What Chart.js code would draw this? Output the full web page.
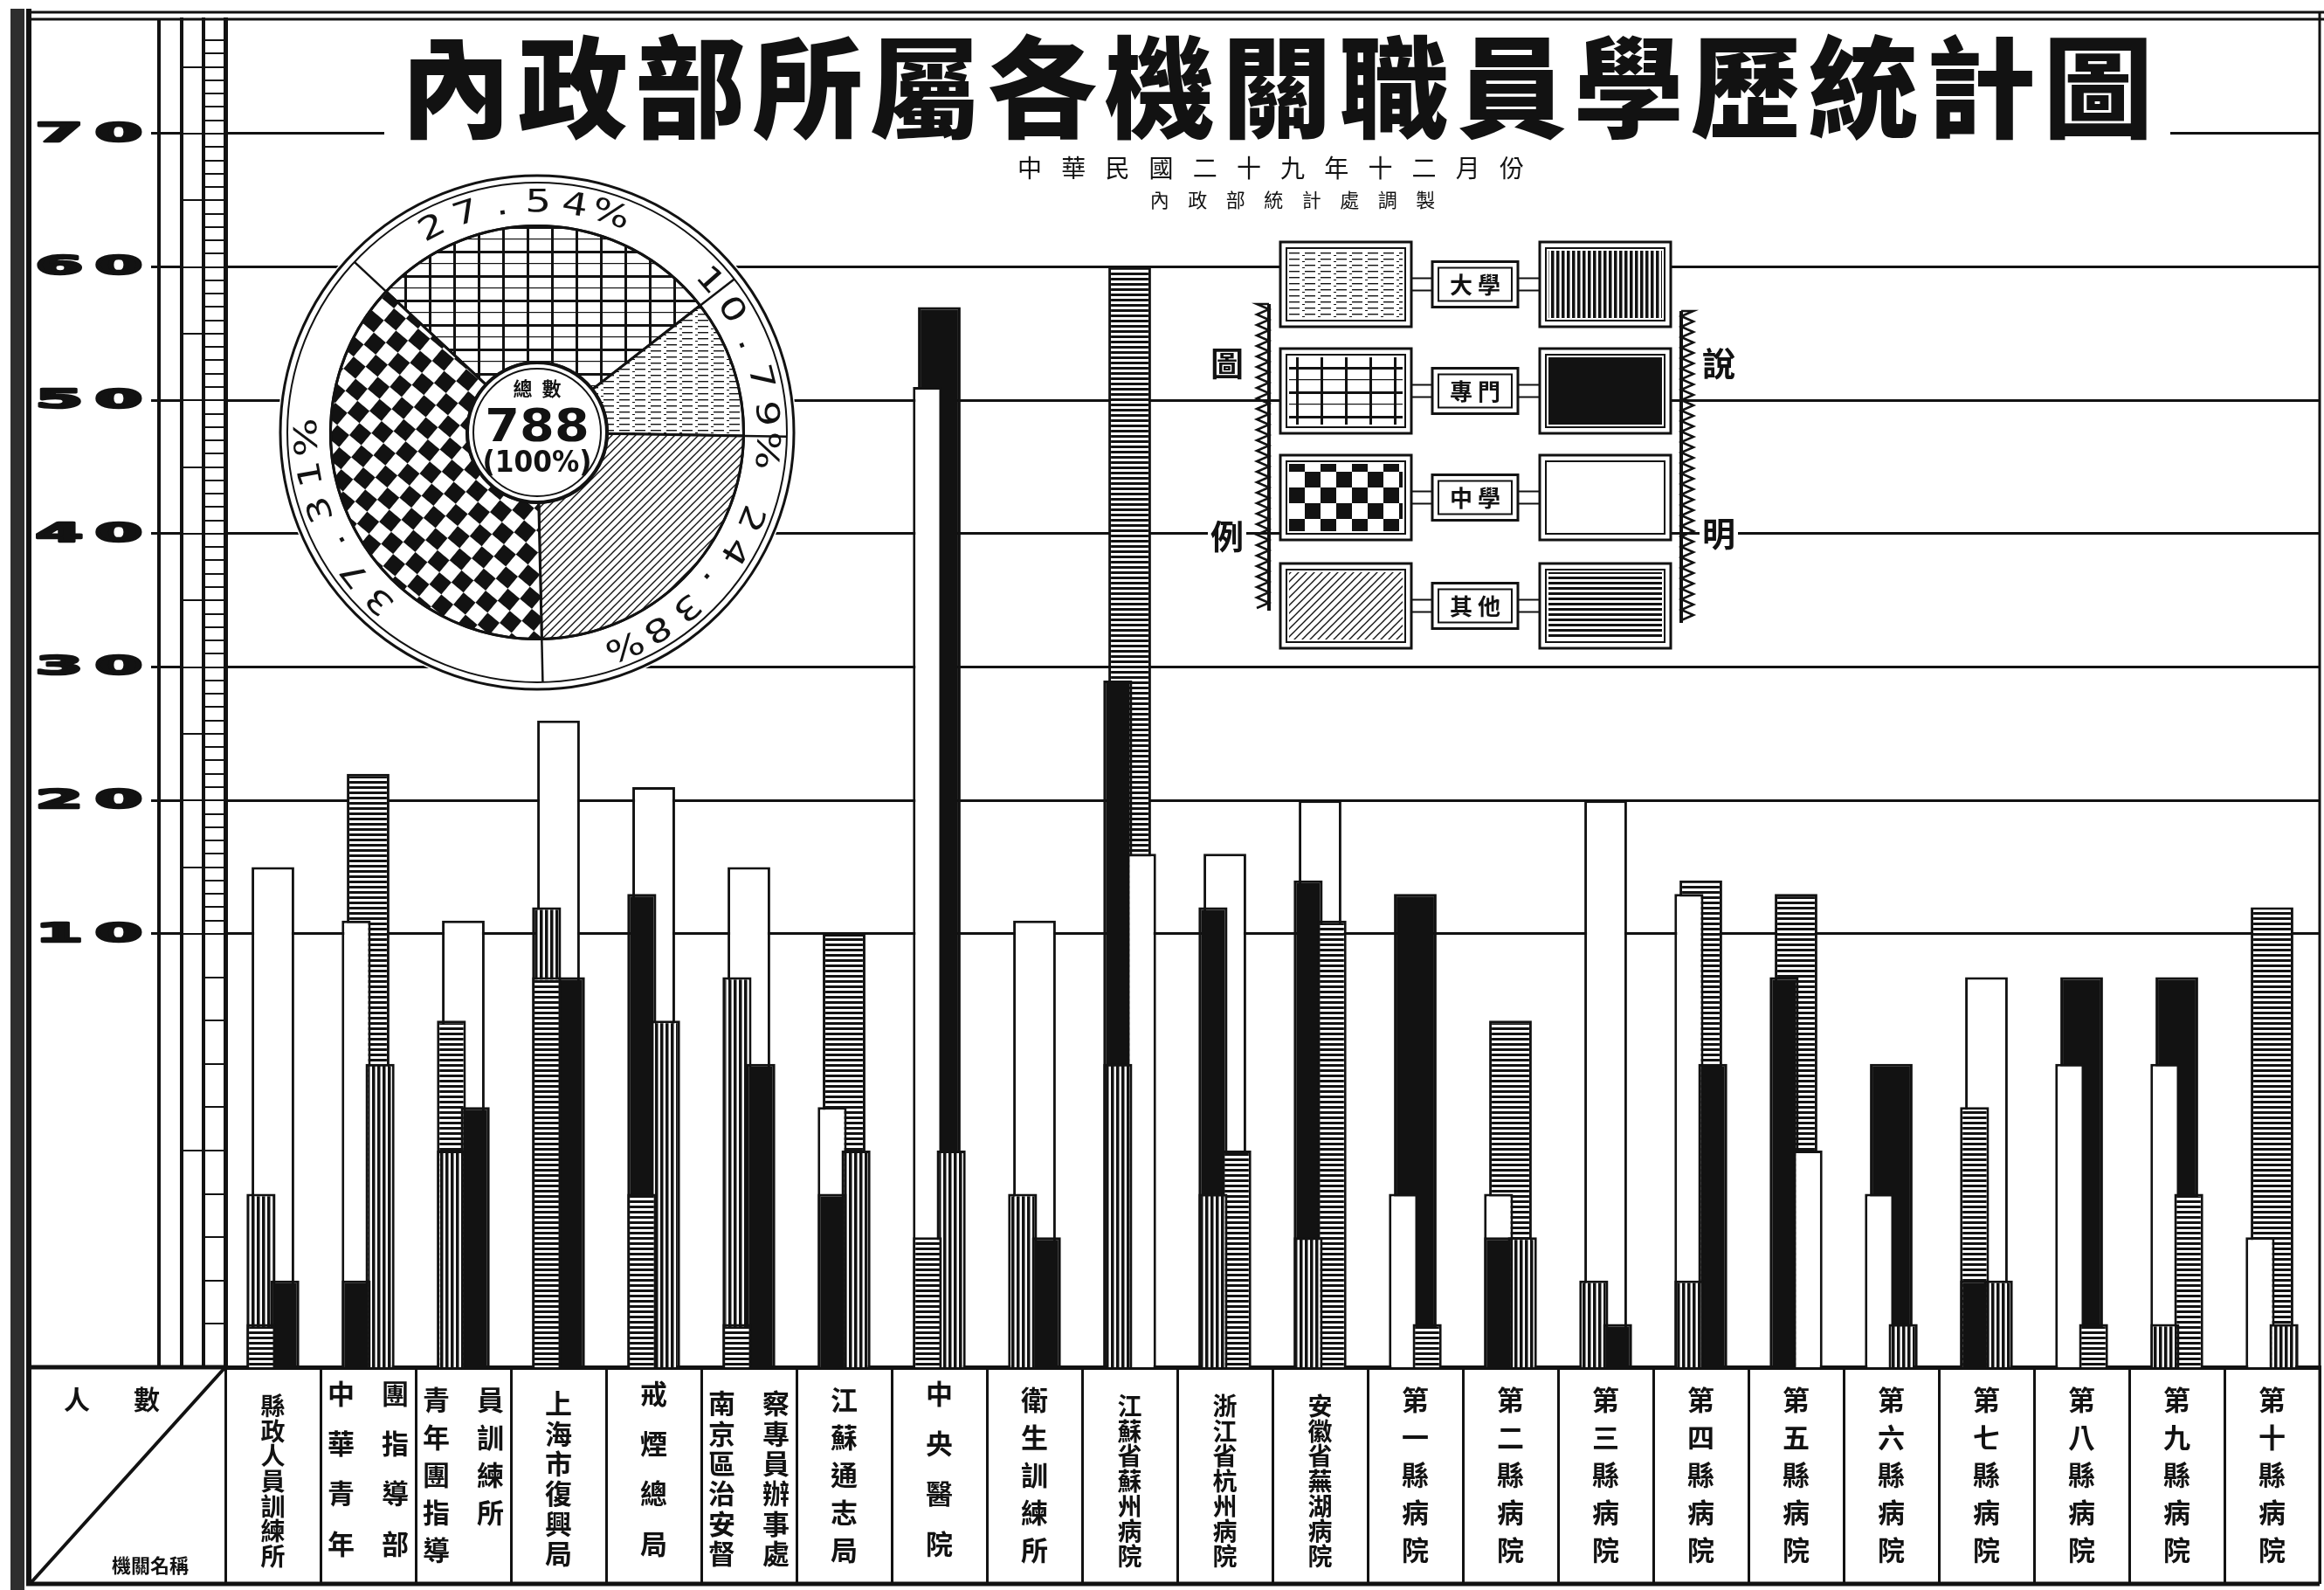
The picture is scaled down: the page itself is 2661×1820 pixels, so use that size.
<!DOCTYPE html>
<html lang="zh-Hant">
<head>
<meta charset="UTF-8">
<title>內政部所屬各機關職員學歷統計圖</title>
<script src="https://cdn.jsdelivr.net/npm/chart.js@4.4.0/dist/chart.umd.min.js"></script>
<style>
  html, body { margin: 0; padding: 0; background: #fff; }
  #wrap { position: relative; width: 2661px; height: 1820px; overflow: hidden; }
  #barChart { position: absolute; left: 0; top: 0; }
  #pieChart { position: absolute; left: 295px; top: 175px; }
</style>
</head>
<body>
<div id="wrap">
  <canvas id="barChart" width="2661" height="1820"></canvas>
  <canvas id="pieChart" width="640" height="640"></canvas>
</div>
<script>
// ---- data ----
// institution names, as written in one or two vertical columns
const institutions = [
  ['縣政人員訓練所'],
  ['中華青年', '團指導部'],
  ['青年團指導', '員訓練所'],
  ['上海市復興局'],
  ['戒煙總局'],
  ['南京區治安督', '察專員辦事處'],
  ['江蘇通志局'],
  ['中央醫院'],
  ['衛生訓練所'],
  ['江蘇省蘇州病院'],
  ['浙江省杭州病院'],
  ['安徽省蕪湖病院'],
  ['第一縣病院'],
  ['第二縣病院'],
  ['第三縣病院'],
  ['第四縣病院'],
  ['第五縣病院'],
  ['第六縣病院'],
  ['第七縣病院'],
  ['第八縣病院'],
  ['第九縣病院'],
  ['第十縣病院']
];
const levels = ['大學', '專門', '中學', '其他'];
const univ    = [4, 7, 5, 12, 8, 9, 5, 5, 4, 7, 4, 3, 0, 3, 2, 2, 0, 1, 2, 0, 1, 1];
const special = [2, 2, 6, 9, 13, 7, 4, 57, 3, 29, 12, 14, 13, 3, 1, 7, 9, 7, 2, 9, 9, 0];
const middle  = [15, 11, 11, 26, 21, 15, 6, 51, 11, 16, 16, 20, 4, 4, 20, 13, 5, 4, 9, 7, 7, 3];
const other   = [1, 22, 8, 9, 4, 1, 10, 3, 0, 60, 5, 11, 1, 8, 0, 14, 13, 0, 6, 1, 4, 12];
const yTicks  = [10, 20, 30, 40, 50, 60, 70];

// ring chart, clockwise from the upper left
const pieLevels = ['專門', '大學', '其他', '中學'];
const pieShares = [27.54, 10.79, 24.38, 37.31];
const totalStaff = 788;

const INK = '#121212';
const CJK = '"Noto Sans CJK TC", "Noto Sans CJK SC", sans-serif';
const DIGITS = '"DejaVu Sans", sans-serif';

Chart.defaults.color = INK;
Chart.defaults.font.family = CJK;

// y axis: 0-10 is drawn stretched, as on the original sheet
class SplitScale extends Chart.LinearScale {
  static id = 'split';
  static defaults = Chart.LinearScale.defaults;
  _frac(v) {
    const b = this.options.breakValue, f = this.options.breakFrac;
    if (v <= b) return (v - this.min) / (b - this.min) * f;
    return f + (v - b) / (this.max - b) * (1 - f);
  }
  getPixelForValue(value) {
    if (value === null || value === undefined || isNaN(value)) return NaN;
    return this.getPixelForDecimal(this._frac(value));
  }
  getValueForPixel(pixel) {
    const t = this.getDecimalForPixel(pixel);
    const b = this.options.breakValue, f = this.options.breakFrac;
    if (t <= f) return this.min + t / f * (b - this.min);
    return b + (t - f) / (1 - f) * (this.max - b);
  }
}
Chart.register(SplitScale);

// ---- fills ----
function pattern(ctx, w, h, draw) {
  const c = document.createElement('canvas');
  c.width = w; c.height = h;
  const g = c.getContext('2d');
  g.fillStyle = '#fff'; g.fillRect(0, 0, w, h);
  g.fillStyle = INK; g.strokeStyle = INK;
  draw(g, w, h);
  return ctx.createPattern(c, 'repeat');
}
function makeFills(ctx) {
  return {
    bar: {
      '大學': pattern(ctx, 6, 6, g => g.fillRect(0, 0, 3.5, 6)),
      '專門': INK,
      '中學': '#fff',
      '其他': pattern(ctx, 6, 6, g => g.fillRect(0, 0, 6, 3))
    },
    pie: {
      '大學': pattern(ctx, 18, 7, g => { g.fillRect(0, 2, 12, 1.4); g.fillRect(15, 5, 3, 1); }),
      '專門': pattern(ctx, 28, 28, g => { g.fillRect(0, 0, 28, 3); g.fillRect(0, 0, 3, 28); g.fillRect(0, 14, 28, 1.2); }),
      '中學': pattern(ctx, 36, 36, g => { g.fillRect(18, 0, 18, 18); g.fillRect(0, 18, 18, 18); }),
      '其他': pattern(ctx, 9, 9, g => {
        g.lineWidth = 1.4; g.beginPath();
        g.moveTo(-1, 10); g.lineTo(10, -1); g.moveTo(-5, 5); g.lineTo(5, -5); g.moveTo(4, 14); g.lineTo(14, 4);
        g.stroke();
      })
    }
  };
}

// ---- helpers ----
function line(ctx, x1, y1, x2, y2, w) {
  ctx.lineWidth = w; ctx.beginPath(); ctx.moveTo(x1, y1); ctx.lineTo(x2, y2); ctx.stroke();
}
function wide(ctx, text, x, y, sx, stroke) {
  ctx.save(); ctx.translate(x, y); ctx.scale(sx, 1);
  ctx.fillText(text, 0, 0);
  if (stroke) { ctx.lineWidth = stroke; ctx.lineJoin = 'round'; ctx.strokeText(text, 0, 0); }
  ctx.restore();
}
function spaced(ctx, text, cx, cy, width) {
  const chars = [...text], step = width / chars.length;
  chars.forEach((ch, i) => ctx.fillText(ch, cx - width / 2 + step * (i + 0.5), cy));
}
function doubleBox(ctx, x, y, w, h, fill) {
  ctx.fillStyle = '#fff'; ctx.fillRect(x, y, w, h);
  ctx.lineWidth = 3; ctx.strokeRect(x, y, w, h);
  ctx.lineWidth = 2; ctx.strokeRect(x + 7, y + 7, w - 14, h - 14);
  if (fill) { ctx.fillStyle = fill; ctx.fillRect(x + 10, y + 10, w - 20, h - 20); }
  ctx.fillStyle = INK;
}
function zigzag(ctx, x, y1, y2, dir) {
  ctx.lineWidth = 2.5; ctx.beginPath(); ctx.moveTo(x, y1);
  let k = 0;
  for (let y = y1; y <= y2; y += 6) { ctx.lineTo(k % 2 ? x : x + dir * 14, y); k++; }
  ctx.stroke();
  line(ctx, x, y1, x, y2, 4);
}

// ---- bar chart ----
const barCtx = document.getElementById('barChart').getContext('2d');
const fills = makeFills(barCtx);
const byLevel = { '大學': univ, '專門': special, '中學': middle, '其他': other };

const labelLines = institutions.map(cols => {
  if (cols.length === 1) return [...cols[0]];
  const n = Math.max(...cols.map(c => c.length));
  return Array.from({ length: n }, (_, k) => (cols[0][k] || '　') + '　' + (cols[1][k] || '　'));
});
const LABEL_SPAN = 172;

// tallest bar of each institution is drawn full width behind, the others
// as narrower bars in the left / right half on top of it
const slots = [null, 'L', 'R', 'L'];
const rankSets = [0, 1, 2, 3].map(r => {
  const data = [], bg = [];
  institutions.forEach((_, i) => {
    const sorted = levels.map(l => ({ l, v: byLevel[l][i] })).sort((a, b) => b.v - a.v);
    data.push(sorted[r].v > 0 ? sorted[r].v : null);
    bg.push(fills.bar[sorted[r].l]);
  });
  const ds = { data, backgroundColor: bg, borderColor: INK, borderWidth: 3, order: 4 - r };
  if (r === 0) Object.assign(ds, { grouped: false, barPercentage: 0.56 });
  else Object.assign(ds, { stack: slots[r], categoryPercentage: 0.5, barPercentage: 1.22 });
  return ds;
});

const decor = {
  id: 'decor',
  afterDraw(chart) {
    const ctx = chart.ctx, ys = chart.scales.y, area = chart.chartArea;
    ctx.save();
    ctx.strokeStyle = INK; ctx.fillStyle = INK;

    // frame
    ctx.fillStyle = '#2e2e2e'; ctx.fillRect(12, 10, 16, 1810); ctx.fillStyle = INK;
    line(ctx, 30, 14, 2661, 14, 3);
    line(ctx, 30, 22, 2661, 22, 3);
    line(ctx, 33, 10, 33, 1815, 6);
    line(ctx, 2656, 14, 2656, 1813, 3);
    line(ctx, 30, 1813, 2656, 1813, 5);
    line(ctx, 182, 22, 182, area.bottom, 4);
    line(ctx, 33, area.bottom, area.left, area.bottom, 5);
    line(ctx, area.left, area.bottom, 36, 1811, 4);

    // corner cell
    ctx.textAlign = 'center'; ctx.textBaseline = 'middle';
    ctx.font = 'bold 30px ' + CJK;
    ctx.fillText('人', 88, 1602);
    ctx.fillText('數', 168, 1602);
    ctx.font = 'bold 22px ' + CJK;
    ctx.fillText('機關名稱', 172, 1792);

    // y labels, wide block digits
    ctx.font = 'bold 30px ' + DIGITS;
    yTicks.forEach(v => {
      const y = ys.getPixelForValue(v) + 1, s = String(v);
      wide(ctx, s[0], 68, y, 2.6, 2.5);
      wide(ctx, s[1], 136, y, 2.6, 2.5);
    });

    // title block
    ctx.fillStyle = '#fff'; ctx.fillRect(440, 28, 2045, 140); ctx.fillStyle = INK;
    ctx.font = '900 126px ' + CJK;
    spaced(ctx, '內政部所屬各機關職員學歷統計圖', 1462, 100, 2015);
    ctx.font = '28px ' + CJK;
    spaced(ctx, '中華民國二十九年十二月份', 1455, 192, 602);
    ctx.font = '22px ' + CJK;
    spaced(ctx, '內政部統計處調製', 1480, 229, 348);

    // legend
    const rows = [277, 399, 521, 645], h = 97;
    ctx.fillStyle = '#fff'; ctx.fillRect(1466, 272, 448, 472); ctx.fillStyle = INK;
    rows.forEach((top, i) => {
      const lv = levels[i], cy = top + h / 2;
      doubleBox(ctx, 1466, top, 150, h, fills.pie[lv]);
      doubleBox(ctx, 1763, top, 150, h, fills.bar[lv]);
      line(ctx, 1616, cy - 7, 1640, cy - 7, 2); line(ctx, 1616, cy + 7, 1640, cy + 7, 2);
      line(ctx, 1738, cy - 7, 1763, cy - 7, 2); line(ctx, 1738, cy + 7, 1763, cy + 7, 2);
      doubleBox(ctx, 1640, cy - 26, 98, 52, null);
      ctx.font = 'bold 26px ' + CJK;
      spaced(ctx, lv, 1689, cy + 1, 64);
    });
    zigzag(ctx, 1453, 348, 699, -1);
    zigzag(ctx, 1925, 356, 713, 1);
    ctx.font = 'bold 38px ' + CJK;
    [['圖', 1405, 416], ['例', 1405, 614], ['說', 1968, 416], ['明', 1968, 611]].forEach(([t, x, y]) => {
      ctx.fillStyle = '#fff'; ctx.fillRect(x - 22, y - 22, 44, 44);
      ctx.fillStyle = INK; ctx.fillText(t, x, y);
    });
    ctx.restore();
  }
};

new Chart(barCtx, {
  type: 'bar',
  data: { labels: labelLines, datasets: rankSets },
  options: {
    responsive: false,
    animation: false,
    devicePixelRatio: 1,
    layout: { padding: { left: 33, top: 22, right: 5, bottom: 7 } },
    plugins: { legend: { display: false }, tooltip: { enabled: false } },
    scales: {
      x: {
        type: 'category',
        offset: true,
        grid: { offset: true, drawOnChartArea: false, drawTicks: true, tickLength: 248, color: INK, lineWidth: 3 },
        border: { display: true, color: INK, width: 5 },
        ticks: {
          autoSkip: false, maxRotation: 0, minRotation: 0,
          crossAlign: 'center', padding: -218, color: INK,
          font: c => {
            if (c.index === undefined) return { family: CJK, size: 30, weight: 'bold' };
            const n = labelLines[c.index].length, lh = LABEL_SPAN / (n - 1);
            return { family: CJK, weight: 'bold', size: Math.min(31, Math.round(lh * 0.98)), lineHeight: lh + 'px' };
          }
        },
        afterFit: s => { s.height = 248; }
      },
      y: {
        type: 'split', position: 'left', weight: 3,
        min: 0, max: 78.58, breakValue: 10, breakFrac: 0.3215, stacked: false,
        afterBuildTicks: s => { s.ticks = yTicks.map(v => ({ value: v })); },
        ticks: { display: false },
        grid: { color: INK, lineWidth: 3, drawTicks: true, tickLength: 35 },
        border: { display: true, color: INK, width: 4 },
        afterFit: s => { s.width = 175; }
      },
      y5: {
        type: 'split', position: 'left', weight: 2,
        min: 0, max: 78.58, breakValue: 10, breakFrac: 0.3215,
        ticks: { display: false, stepSize: 5 },
        afterBuildTicks: s => { s.ticks = s.ticks.filter(t => Number.isInteger(t.value) && t.value > 0); },
        grid: { drawOnChartArea: false, drawTicks: true, tickLength: 25, color: INK, lineWidth: 2 },
        border: { display: true, color: INK, width: 4 },
        afterFit: s => { s.width = 25; }
      },
      y1: {
        type: 'split', position: 'left', weight: 1,
        min: 0, max: 78.58, breakValue: 10, breakFrac: 0.3215,
        ticks: { display: false, stepSize: 1 },
        afterBuildTicks: s => { s.ticks = s.ticks.filter(t => Number.isInteger(t.value) && t.value > 0); },
        grid: { drawOnChartArea: false, drawTicks: true, tickLength: 25, color: INK, lineWidth: 2 },
        border: { display: true, color: INK, width: 5 },
        afterFit: s => { s.width = 25; }
      }
    }
  },
  plugins: [decor]
});

// ---- ring chart ----
const pieCtx = document.getElementById('pieChart').getContext('2d');
const pieFills = makeFills(pieCtx);
pieFills.pie['中學'].setTransform(new DOMMatrix().rotateSelf(40));
const RING_OUT = 294, RING_IN = 286, RING_TEXT = 262;

const ring = {
  id: 'ring',
  beforeDatasetsDraw(chart) {
    const a = chart.getDatasetMeta(0).data[0], ctx = chart.ctx;
    ctx.save(); ctx.fillStyle = '#fff';
    ctx.beginPath(); ctx.arc(a.x, a.y, RING_OUT + 3, 0, Math.PI * 2); ctx.fill();
    ctx.restore();
  },
  afterDatasetsDraw(chart) {
    const arcs = chart.getDatasetMeta(0).data, ctx = chart.ctx;
    const { x, y, outerRadius: R } = arcs[0];
    ctx.save();
    ctx.strokeStyle = INK; ctx.fillStyle = INK;
    [[R, 3], [RING_IN, 2], [RING_OUT, 3]].forEach(([r, w]) => {
      ctx.lineWidth = w; ctx.beginPath(); ctx.arc(x, y, r, 0, Math.PI * 2); ctx.stroke();
    });
    ctx.textAlign = 'center'; ctx.textBaseline = 'middle';
    ctx.font = '36px ' + DIGITS;
    arcs.forEach((a, i) => {
      line(ctx, x + R * Math.cos(a.startAngle), y + R * Math.sin(a.startAngle),
        x + RING_IN * Math.cos(a.startAngle), y + RING_IN * Math.sin(a.startAngle), 2.5);
      const text = pieShares[i].toFixed(2) + '%', chars = [...text];
      const mid = (a.startAngle + a.endAngle) / 2 - (i === 0 ? 0.12 : 0), step = 0.16;
      chars.forEach((ch, k) => {
        const t = mid + (k - (chars.length - 1) / 2) * step;
        ctx.save();
        ctx.translate(x + RING_TEXT * Math.cos(t), y + RING_TEXT * Math.sin(t));
        ctx.rotate(t + Math.PI / 2); ctx.scale(1.3, 1);
        ctx.fillText(ch, 0, 0);
        ctx.restore();
      });
    });
    // centre disc
    ctx.fillStyle = '#fff';
    ctx.beginPath(); ctx.arc(x, y, 80, 0, Math.PI * 2); ctx.fill();
    ctx.lineWidth = 4; ctx.stroke();
    ctx.lineWidth = 2; ctx.beginPath(); ctx.arc(x, y, 73, 0, Math.PI * 2); ctx.stroke();
    ctx.fillStyle = INK;
    ctx.font = 'bold 22px ' + CJK;
    spaced(ctx, '總數', x, y - 50, 66);
    ctx.font = 'bold 52px ' + DIGITS;
    wide(ctx, String(totalStaff), x, y - 4, 1.1);
    ctx.font = 'bold 34px ' + DIGITS;
    wide(ctx, '(100%)', x, y + 36, 0.92);
    ctx.restore();
  }
};

new Chart(pieCtx, {
  type: 'doughnut',
  data: {
    labels: pieLevels,
    datasets: [{
      data: pieShares,
      backgroundColor: pieLevels.map(l => pieFills.pie[l]),
      borderColor: INK,
      borderWidth: 3
    }]
  },
  options: {
    responsive: false,
    animation: false,
    devicePixelRatio: 1,
    rotation: -47,
    cutout: '34%',
    layout: { padding: 82 },
    plugins: { legend: { display: false }, tooltip: { enabled: false } }
  },
  plugins: [ring]
});
</script>
</body>
</html>
